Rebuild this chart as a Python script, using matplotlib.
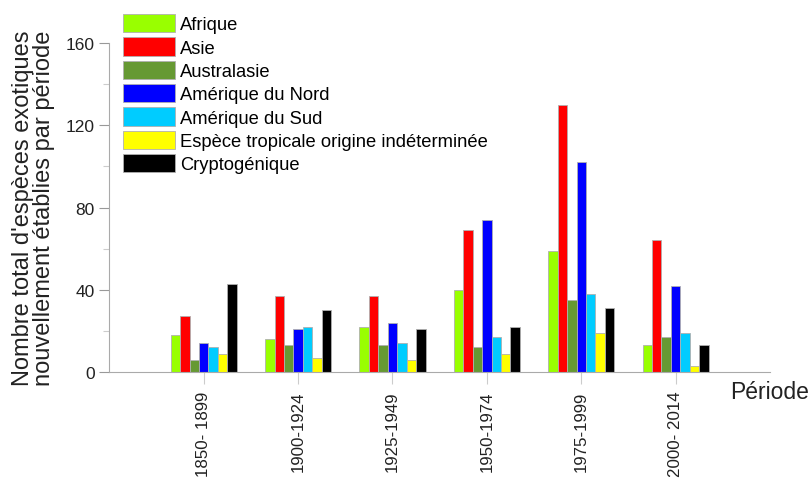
import numpy as np
import matplotlib
matplotlib.use("Agg")
import matplotlib.pyplot as plt
from matplotlib.ticker import MultipleLocator

plt.rcParams["font.family"] = ["Liberation Sans", "DejaVu Sans"]

# Data
periodes = ["1850- 1899", "1900-1924", "1925-1949", "1950-1974", "1975-1999", "2000- 2014"]
origines = ["Afrique", "Asie", "Australasie", "Amérique du Nord", "Amérique du Sud",
            "Espèce tropicale origine indéterminée", "Cryptogénique"]
afrique = [18, 16, 22, 40, 59, 13]
asie = [27, 37, 37, 69, 130, 64]
australasie = [6, 13, 13, 12, 35, 17]
amerique_nord = [14, 21, 24, 74, 102, 42]
amerique_sud = [12, 22, 14, 17, 38, 19]
tropicale = [9, 7, 6, 9, 19, 3]
cryptogenique = [43, 30, 21, 22, 31, 13]
series = [afrique, asie, australasie, amerique_nord, amerique_sud, tropicale, cryptogenique]
couleurs = ["#99ff00", "#ff0000", "#669933", "#0000ff", "#00ccff", "#ffff00", "#000000"]

fig = plt.figure(figsize=(8.1, 4.81), dpi=100)
ax = fig.add_axes([0.135, 0.2245, 0.8156, 0.684])

x = np.arange(len(periodes))
w = 0.1
for i, (vals, col, lab) in enumerate(zip(series, couleurs, origines)):
    ax.bar(x + (i - 3) * w, vals, width=w, color=col, edgecolor="#b0b0b0",
           linewidth=0.6, label=lab)

ax.set_xlim(-1, 6)
ax.set_ylim(0, 160)
ax.set_xticks(x)
ax.set_xticklabels(periodes, rotation=90, fontsize=12.2, color="#222222")
ax.yaxis.set_major_locator(MultipleLocator(40))
ax.yaxis.set_minor_locator(MultipleLocator(20))
ax.tick_params(axis="y", which="major", length=7, width=0.8, color="#999999",
               labelsize=12.5, labelcolor="#222222", pad=3.5)
ax.tick_params(axis="y", which="minor", length=4.3, width=0.8, color="#cccccc")
ax.tick_params(axis="x", length=8.5, width=0.8, color="#cccccc", pad=5)

for s in ["top", "right"]:
    ax.spines[s].set_visible(False)
for s in ["left", "bottom"]:
    ax.spines[s].set_color("#aaaaaa")
    ax.spines[s].set_linewidth(0.8)

ax.set_ylabel("Nombre total d'espèces exotiques\nnouvellement établies par période",
              fontsize=17, color="#222222", labelpad=8, linespacing=0.95)
fig.text(0.902, 0.185, "Période", fontsize=16.5, color="#222222", ha="left", va="center")

ax.legend(loc="upper left", bbox_to_anchor=(0.1515, 0.9688), bbox_transform=fig.transFigure,
          frameon=False, fontsize=13.2, handlelength=2.84, handleheight=1.15,
          labelspacing=0.22, handletextpad=0.3, borderpad=0, borderaxespad=0)

fig.savefig("out.png", dpi=100)
